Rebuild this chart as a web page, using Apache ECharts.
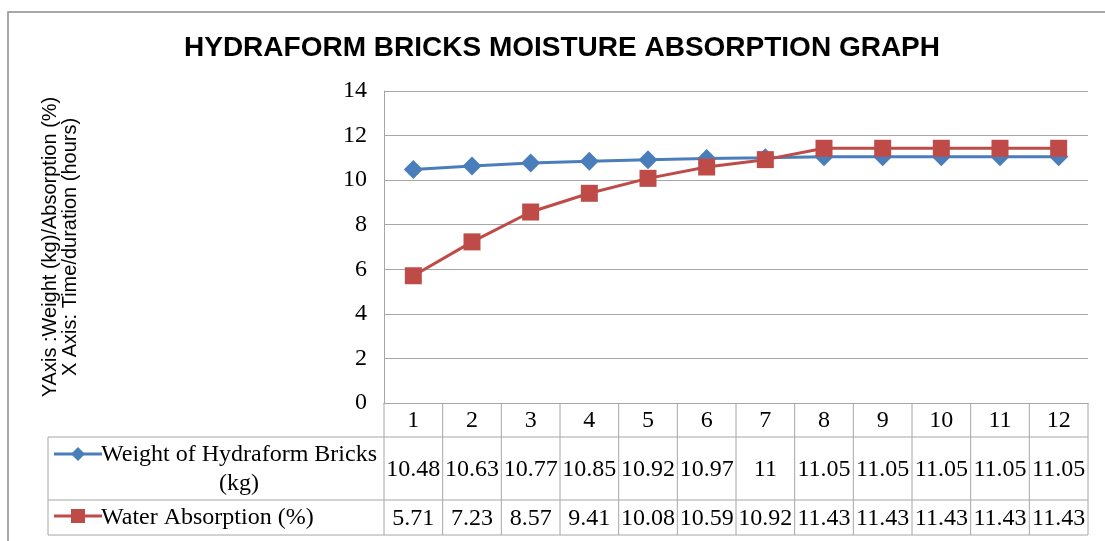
<!DOCTYPE html>
<html>
<head>
<meta charset="utf-8">
<script src="https://cdn.jsdelivr.net/npm/echarts@6/dist/echarts.min.js"></script>
<style>
  html, body { margin: 0; padding: 0; background: #fff; }
  #main { width: 1105px; height: 541px; }
</style>
</head>
<body>
<div id="main"></div>
<script>
// hours 1..12
const categories = ['1', '2', '3', '4', '5', '6', '7', '8', '9', '10', '11', '12'];
const weight = [10.48, 10.63, 10.77, 10.85, 10.92, 10.97, 11, 11.05, 11.05, 11.05, 11.05, 11.05];
const absorption = [5.71, 7.23, 8.57, 9.41, 10.08, 10.59, 10.92, 11.43, 11.43, 11.43, 11.43, 11.43];
const seriesNames = ['Weight of Hydraform Bricks (kg)', 'Water Absorption (%)'];

const BLUE = '#4a7ebb';
const RED = '#be4b48';
const GRID_GRAY = '#a6a6a6';
const SERIF = '"Liberation Serif", "Times New Roman", serif';
const SANS = '"Liberation Sans", Arial, sans-serif';

// table rows below the x axis (offsets from axis line)
const ROW1 = 34, ROW2 = 97, ROW3 = 132;
const TABLE_LEFT = 48;

const chart = echarts.init(document.getElementById('main'));

const tableData = categories.map((c, i) => [i, weight[i], absorption[i]]);

function renderCell(params, api) {
    const i = api.value(0);
    const p = api.coord([i, 0]);
    const w = api.size([1, 0])[0];
    const y0 = p[1];
    const children = [
        { type: 'line', shape: { x1: p[0] + w / 2, y1: y0, x2: p[0] + w / 2, y2: y0 + ROW3 },
          style: { stroke: GRID_GRAY, lineWidth: 1 } },
        { type: 'text', style: { text: String(api.value(1)), x: p[0], y: y0 + (ROW1 + ROW2) / 2 + 1,
          fill: '#000', fontSize: 24, fontFamily: SERIF, align: 'center', verticalAlign: 'middle' } },
        { type: 'text', style: { text: String(api.value(2)), x: p[0], y: y0 + (ROW2 + ROW3) / 2 + 1,
          fill: '#000', fontSize: 24, fontFamily: SERIF, align: 'center', verticalAlign: 'middle' } }
    ];
    if (i === 0) {
        const xl = p[0] - w / 2;
        children.push(
            { type: 'line', shape: { x1: xl, y1: y0, x2: xl, y2: y0 + ROW3 }, style: { stroke: GRID_GRAY, lineWidth: 1 } },
            { type: 'line', shape: { x1: TABLE_LEFT, y1: y0 + ROW1, x2: xl + w * 12, y2: y0 + ROW1 }, style: { stroke: GRID_GRAY, lineWidth: 1 } },
            { type: 'line', shape: { x1: TABLE_LEFT, y1: y0 + ROW2, x2: xl + w * 12, y2: y0 + ROW2 }, style: { stroke: GRID_GRAY, lineWidth: 1 } },
            { type: 'line', shape: { x1: TABLE_LEFT, y1: y0 + ROW3, x2: xl + w * 12, y2: y0 + ROW3 }, style: { stroke: GRID_GRAY, lineWidth: 1 } },
            { type: 'line', shape: { x1: TABLE_LEFT, y1: y0 + ROW1, x2: TABLE_LEFT, y2: y0 + ROW3 }, style: { stroke: GRID_GRAY, lineWidth: 1 } }
        );
    }
    return { type: 'group', children: children };
}

const option = {
    backgroundColor: '#fff',
    animation: false,
    title: {
        text: 'HYDRAFORM BRICKS MOISTURE ABSORPTION GRAPH',
        left: 179,
        top: 29,
        textStyle: { fontFamily: SANS, fontSize: 28, fontWeight: 'bold', color: '#000' }
    },
    grid: { left: 384, top: 91, width: 704, height: 312 },
    xAxis: {
        type: 'category',
        data: categories,
        boundaryGap: true,
        axisLine: { lineStyle: { color: GRID_GRAY, width: 1 } },
        axisTick: { show: false },
        axisLabel: { color: '#000', fontFamily: SERIF, fontSize: 24, margin: 6, lineHeight: 24 },
        splitLine: { show: false }
    },
    yAxis: {
        type: 'value',
        min: 0,
        max: 14,
        interval: 2,
        name: 'YAxis :Weight (kg)/Absorption (%)\nX Axis: Time/duration (hours)',
        nameLocation: 'middle',
        nameRotate: 90,
        nameGap: 304,
        nameTextStyle: { fontFamily: SANS, fontSize: 20, lineHeight: 20, color: '#000', align: 'center' },
        axisLine: { show: true, lineStyle: { color: GRID_GRAY, width: 1 } },
        axisTick: { show: false },
        axisLabel: { color: '#000', fontFamily: SERIF, fontSize: 24, margin: 17 },
        splitLine: { lineStyle: { color: GRID_GRAY, width: 1 } }
    },
    graphic: [
        // outer chart frame
        { type: 'rect', shape: { x: 8, y: 12, width: 1200, height: 600 },
          style: { fill: 'none', stroke: '#8c8c8c', lineWidth: 1.5 }, z: 0 },
        // legend keys in the data table
        { type: 'line', shape: { x1: 54, y1: 454, x2: 102, y2: 454 }, style: { stroke: BLUE, lineWidth: 3 } },
        { type: 'polygon', shape: { points: [[78, 447], [85, 454], [78, 461], [71, 454]] }, style: { fill: BLUE } },
        { type: 'line', shape: { x1: 54, y1: 516, x2: 102, y2: 516 }, style: { stroke: RED, lineWidth: 3 } },
        { type: 'rect', shape: { x: 71, y: 509, width: 14, height: 14 }, style: { fill: RED } },
        { type: 'text', style: { text: 'Weight of Hydraform Bricks\n(kg)', x: 239, y: 469, align: 'center', verticalAlign: 'middle',
          fontFamily: SERIF, fontSize: 24, lineHeight: 29, fill: '#000' } },
        { type: 'text', style: { text: 'Water Absorption (%)', x: 101, y: 518, align: 'left', verticalAlign: 'middle',
          fontFamily: SERIF, fontSize: 24, fill: '#000' } }
    ],
    series: [
        {
            name: seriesNames[0],
            type: 'line',
            data: weight,
            symbol: 'diamond',
            symbolSize: 19,
            lineStyle: { color: BLUE, width: 3 },
            itemStyle: { color: BLUE },
            z: 3
        },
        {
            name: seriesNames[1],
            type: 'line',
            data: absorption,
            symbol: 'rect',
            symbolSize: 17,
            lineStyle: { color: RED, width: 3 },
            itemStyle: { color: RED },
            z: 4
        },
        {
            type: 'custom',
            name: 'table',
            data: tableData,
            encode: { x: 0, y: 1 },
            renderItem: renderCell,
            clip: false,
            silent: true,
            z: 1
        }
    ]
};

chart.setOption(option);
</script>
</body>
</html>
